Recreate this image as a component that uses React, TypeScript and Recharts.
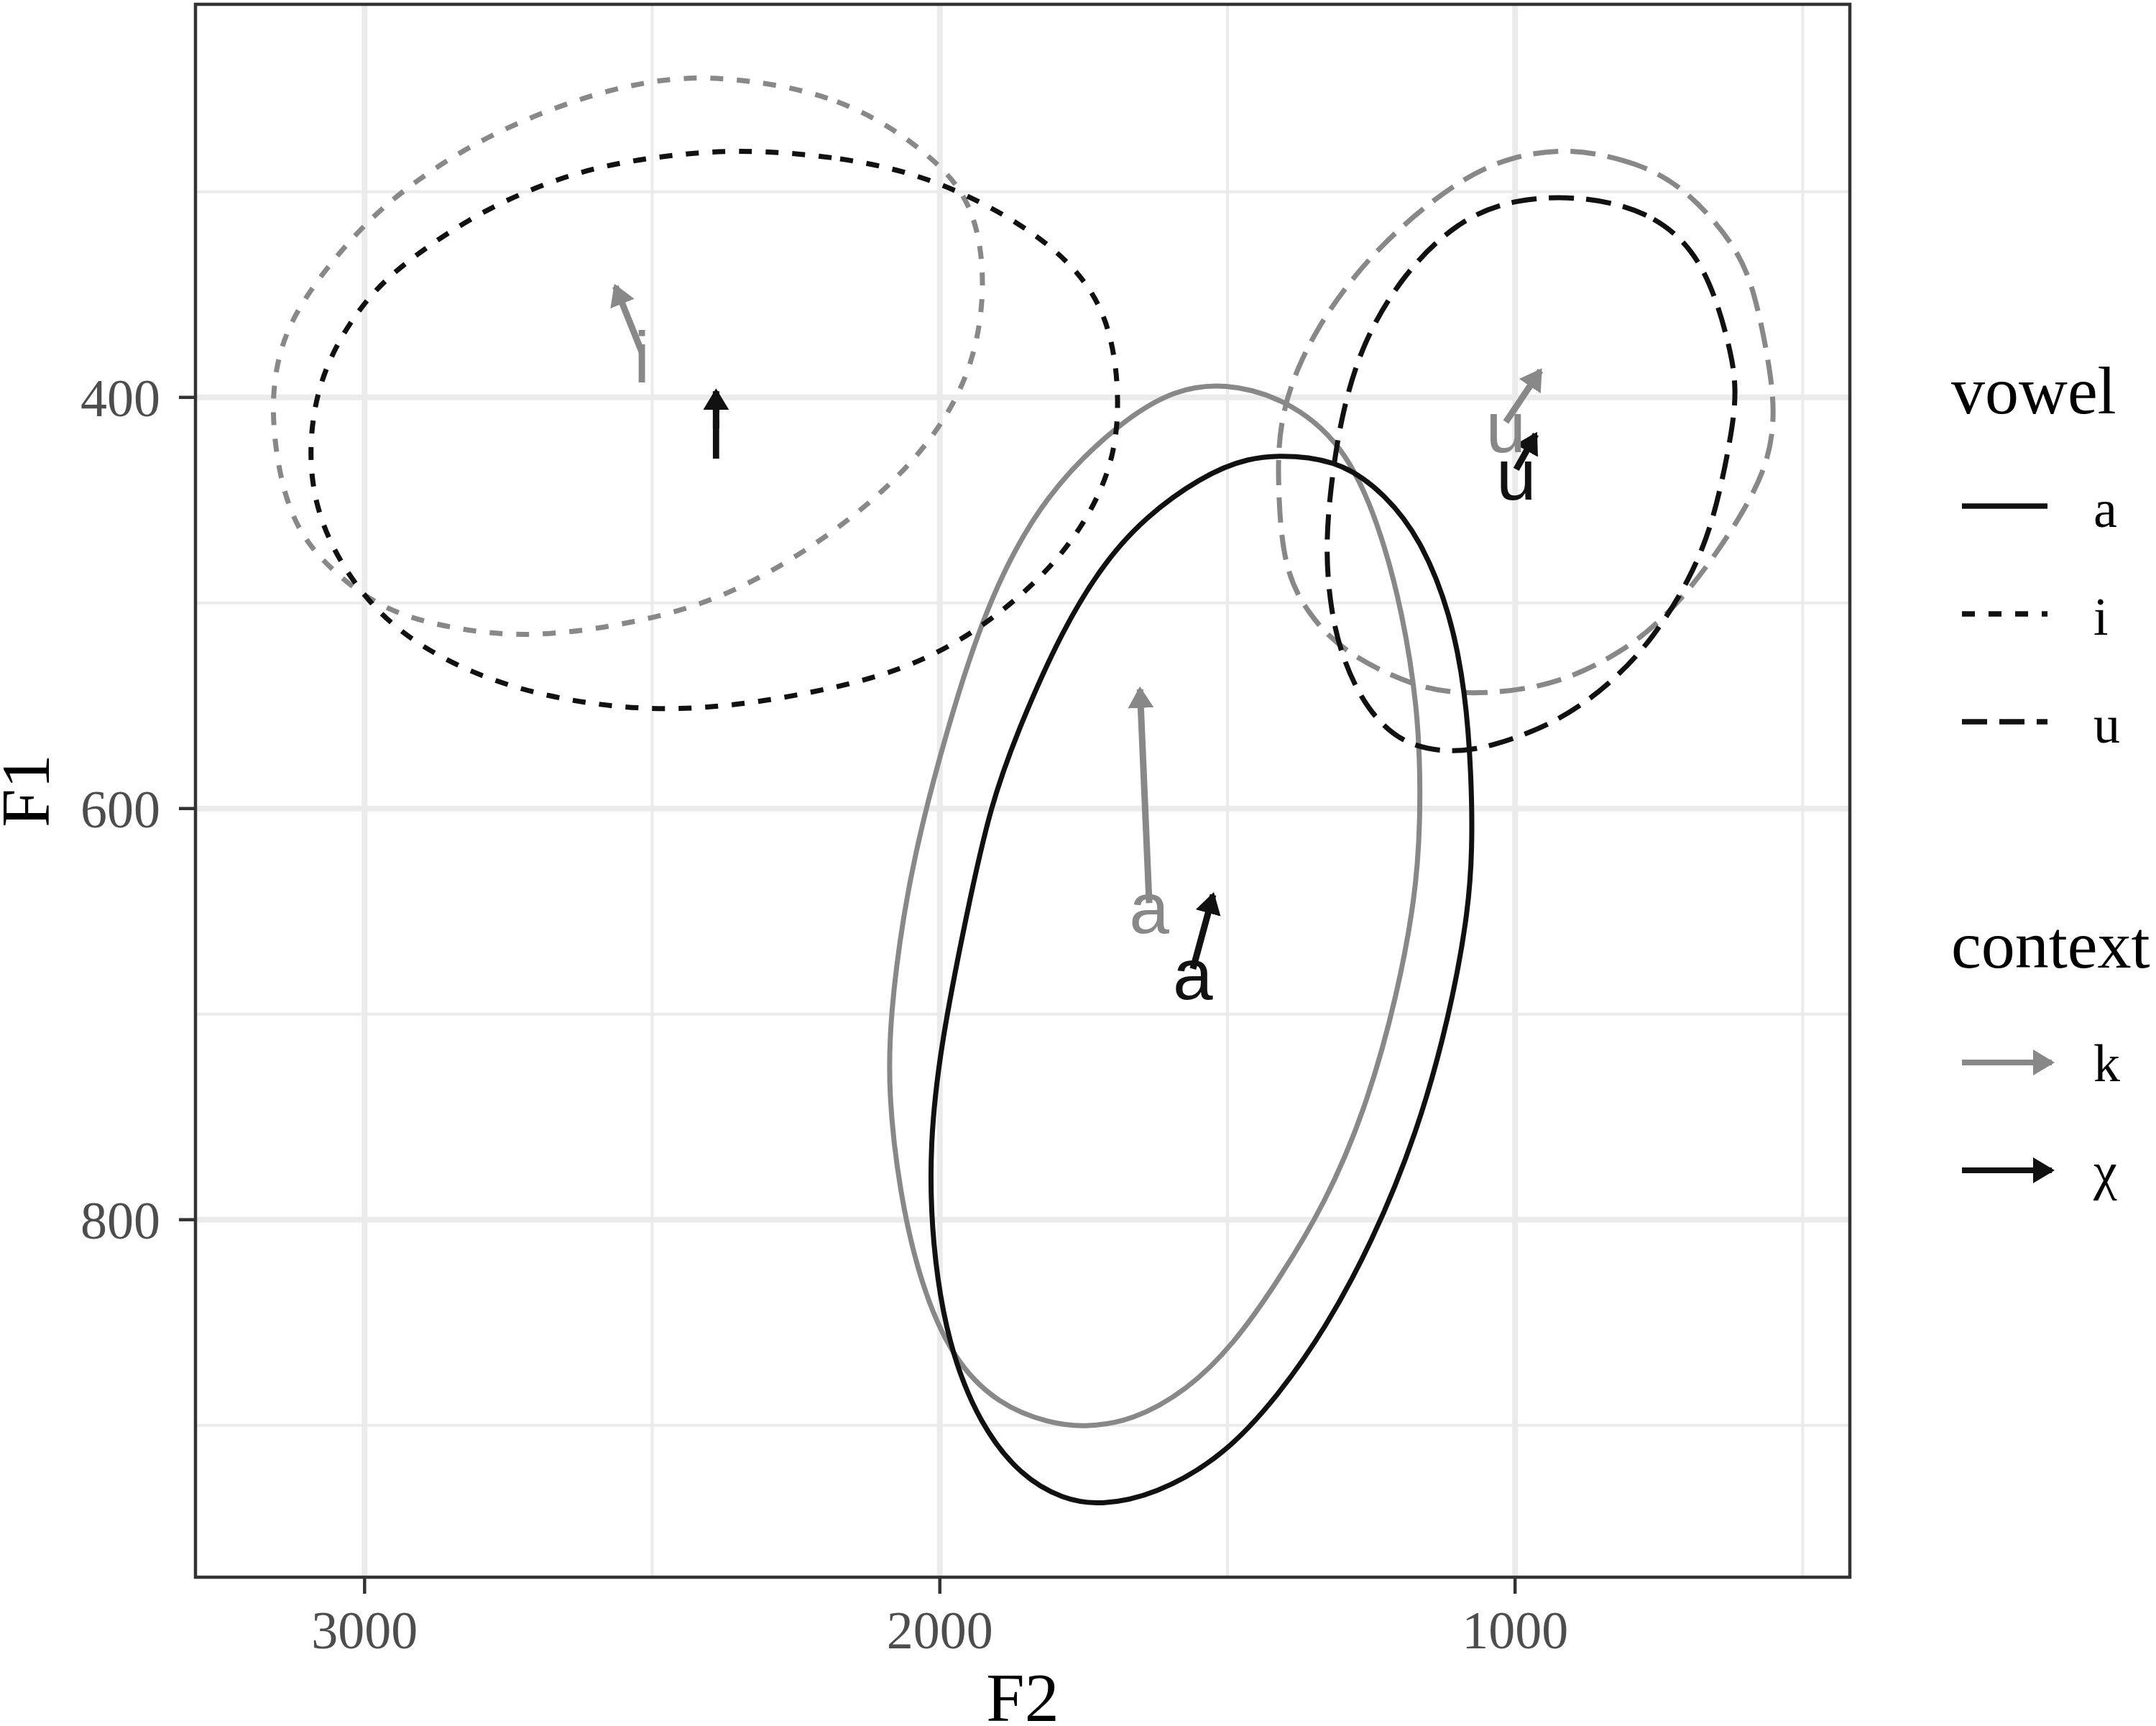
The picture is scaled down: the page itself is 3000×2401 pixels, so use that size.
import React from 'react';
import { ComposedChart, Line, Scatter, XAxis, YAxis, CartesianGrid, ReferenceArea } from 'recharts';

// ---------- data (F2, F1 in Hz) ----------
const vowels = ['a', 'i', 'u'];
const contexts = ['k', 'χ'];

const f2Major = [1000, 2000, 3000];
const f2Minor = [500, 1500, 2500];
const f1Major = [400, 600, 800];
const f1Minor = [300, 500, 700, 900];
const f2Domain: [number, number] = [418, 3294];
const f1Domain: [number, number] = [208.8, 973.9];

// ellipse outlines: [F2, F1]
const ellipseAK = [[1505,393],[1403,400],[1299,422],[1237,461],[1195,505],[1169,552],[1164,590],[1168,635],[1205,692],[1262,748],[1330,792],[1410,829],[1490,861],[1570,883],[1666,898],[1750,901],[1810,899],[1898,890],[1978,868],[2034,831],[2070,787],[2090,738],[2086,700],[2064,652],[2034,610],[1978,552],[1912,496],[1818,447],[1683,411],[1590,396]];
const ellipseAX = [[1382,428],[1299,432],[1226,447],[1164,469],[1112,505],[1086,544],[1076,583],[1074,620],[1082,652],[1114,701],[1170,758],[1250,812],[1330,853],[1410,885],[1506,915],[1626,934],[1722,939],[1786,936],[1858,925],[1930,900],[1986,861],[2014,812],[2018,763],[1998,714],[1954,652],[1912,598],[1860,559],[1787,513],[1714,480],[1642,458],[1548,439],[1465,429]];
const ellipseIK = [[2386,243],[2168,253],[2013,282],[1940,306],[1919,344],[1940,384],[2002,417],[2096,446],[2220,473],[2376,498],[2531,510],[2708,517],[2842,513],[2967,504],[3060,484],[3133,460],[3164,413],[3154,380],[3112,353],[3008,317],[2915,295],[2791,273],[2635,255],[2510,246]];
const ellipseIX = [[2355,279],[2168,283],[2013,293],[1857,315],[1753,339],[1701,366],[1686,404],[1701,435],[1753,464],[1826,489],[1940,515],[2064,533],[2220,544],[2427,553],[2614,550],[2791,538],[2946,515],[3039,484],[3091,451],[3097,417],[3071,384],[2998,351],[2915,331],[2791,308],[2635,290],[2500,283]];
const ellipseUK = [[902,279],[813,284],[718,294],[610,327],[579,354],[556,387],[548,410],[562,435],[624,466],[718,502],[811,524],[936,541],[1081,545],[1175,541],[1299,524],[1361,505],[1403,483],[1413,442],[1410,407],[1351,367],[1243,327],[1100,294],[1000,282]];
const ellipseUX = [[873,302],[753,311],[670,334],[627,374],[614,396],[624,419],[655,461],[697,489],[759,517],[832,539],[925,558],[1040,570],[1112,573],[1195,569],[1258,552],[1299,528],[1320,505],[1330,474],[1320,442],[1303,410],[1267,374],[1195,340],[1100,314],[1000,303]];

// arrows (a, i, u): start -> end
const arrowStartK = [[1636,646],[2518,378],[1016,412]];
const arrowEndK = [[1652,542],[2564,346],[956,387]];
const arrowStartX = [[1560,678],[2389,415],[998,435]];
const arrowEndX = [[1525,642],[2389,397],[964,418]];

// ---------- styles ----------
const GRAY = '#888888';
const BLACK = '#111111';
const DASH: Record<string, string | undefined> = { a: undefined, i: '18 19', u: '35 17' };
const SERIF = '"Liberation Serif", "DejaVu Serif", serif';
const SANS = '"Liberation Sans", Arial, sans-serif';

const toPts = (arr: number[][]) => arr.map(([f2, f1]) => ({ f2, f1 }));

const ellipses = [
  { key: 'aK', v: 'a', color: GRAY, pts: ellipseAK },
  { key: 'iK', v: 'i', color: GRAY, pts: ellipseIK },
  { key: 'uK', v: 'u', color: GRAY, pts: ellipseUK },
  { key: 'aX', v: 'a', color: BLACK, pts: ellipseAX },
  { key: 'iX', v: 'i', color: BLACK, pts: ellipseIX },
  { key: 'uX', v: 'u', color: BLACK, pts: ellipseUX },
];

const arrowSets = [
  { ctx: 'k', color: GRAY, marker: 'url(#arrowK)', starts: arrowStartK, ends: arrowEndK },
  { ctx: 'x', color: BLACK, marker: 'url(#arrowX)', starts: arrowStartX, ends: arrowEndX },
];

const XTick = (props: any) => {
  const { x, y, payload } = props;
  return (
    <text x={x} y={y} dy={76} textAnchor="middle" fontFamily={SERIF} fontSize={74} fill="#4d4d4d">
      {payload.value}
    </text>
  );
};

const YTick = (props: any) => {
  const { x, y, payload } = props;
  return (
    <text x={x} y={y} dx={-26} dy={26} textAnchor="end" fontFamily={SERIF} fontSize={74} fill="#4d4d4d">
      {payload.value}
    </text>
  );
};

const makeLabel = (color: string) => (props: any) => {
  const { cx, cy, payload } = props;
  return (
    <text x={cx} y={cy + 42} textAnchor="middle" fontFamily={SANS} fontSize={100} fill={color}>
      {payload.label}
    </text>
  );
};

export default function App() {
  return (
    <div style={{ position: 'relative', width: 3000, height: 2401, background: '#fff' }}>
      <style>{`body{margin:0;background:#fff}`}</style>
      <ComposedChart
        width={3000}
        height={2401}
        margin={{ top: 6, right: 426, bottom: 57, left: 122 }}
      >
        <CartesianGrid stroke="#ebebeb" strokeWidth={4} verticalValues={f2Minor} horizontalValues={f1Minor} fill="none" />
        <CartesianGrid stroke="#ebebeb" strokeWidth={8} verticalValues={f2Major} horizontalValues={f1Major} fill="none" />
        <XAxis
          type="number"
          dataKey="f2"
          domain={f2Domain}
          allowDataOverflow
          reversed
          ticks={f2Major}
          height={150}
          tickSize={23}
          tickMargin={0}
          axisLine={false}
          tickLine={{ stroke: '#333333', strokeWidth: 4.5 }}
          tick={<XTick />}
        />
        <YAxis
          type="number"
          dataKey="f1"
          domain={f1Domain}
          allowDataOverflow
          reversed
          ticks={f1Major}
          width={150}
          tickSize={23}
          tickMargin={0}
          axisLine={false}
          tickLine={{ stroke: '#333333', strokeWidth: 4.5 }}
          tick={<YTick />}
        />
        {ellipses.map((e) => (
          <Line
            key={e.key}
            data={toPts(e.pts)}
            dataKey="f1"
            type="basisClosed"
            stroke={e.color}
            strokeWidth={7}
            strokeDasharray={DASH[e.v]}
            dot={false}
            activeDot={false}
            isAnimationActive={false}
            legendType="none"
          />
        ))}
        {arrowSets.map((s) =>
          vowels.map((v, i) => (
            <Line
              key={`arrow-${s.ctx}-${v}`}
              data={toPts([s.starts[i], s.ends[i]])}
              dataKey="f1"
              type="linear"
              stroke={s.color}
              strokeWidth={9}
              markerEnd={s.marker}
              dot={false}
              activeDot={false}
              isAnimationActive={false}
              legendType="none"
            />
          ))
        )}
        {arrowSets.map((s) => (
          <Scatter
            key={`labels-${s.ctx}`}
            data={vowels.map((v, i) => ({ f2: s.starts[i][0], f1: s.starts[i][1], label: v }))}
            dataKey="f1"
            shape={makeLabel(s.color)}
            isAnimationActive={false}
            legendType="none"
          />
        ))}
        <ReferenceArea
          x1={f2Domain[0]}
          x2={f2Domain[1]}
          y1={f1Domain[0]}
          y2={f1Domain[1]}
          fill="none"
          fillOpacity={0}
          stroke="#333333"
          strokeWidth={4.5}
          ifOverflow="visible"
        />
      </ComposedChart>
      <svg width={3000} height={2401} style={{ position: 'absolute', left: 0, top: 0, pointerEvents: 'none' }}>
        <defs>
          <marker id="arrowK" markerUnits="userSpaceOnUse" viewBox="0 0 30 36" markerWidth={30} markerHeight={36} refX={26} refY={18} orient="auto">
            <path d="M0,0 L30,18 L0,36 Z" fill={GRAY} />
          </marker>
          <marker id="arrowX" markerUnits="userSpaceOnUse" viewBox="0 0 30 36" markerWidth={30} markerHeight={36} refX={26} refY={18} orient="auto">
            <path d="M0,0 L30,18 L0,36 Z" fill={BLACK} />
          </marker>
        </defs>
        {/* axis titles */}
        <text x={1423} y={2394} textAnchor="middle" fontFamily={SERIF} fontSize={96} fill="#000">F2</text>
        <text x={68} y={1100} transform="rotate(-90 68 1100)" textAnchor="middle" fontFamily={SERIF} fontSize={96} fill="#000">F1</text>
        {/* legend: vowel */}
        <text x={2715} y={575} fontFamily={SERIF} fontSize={94} fill="#000">vowel</text>
        {vowels.map((v, i) => (
          <g key={`lv-${v}`}>
            <line x1={2730} x2={2849} y1={704 + 150 * i} y2={704 + 150 * i} stroke={BLACK} strokeWidth={7.5} strokeDasharray={DASH[v]} />
            <text x={2913} y={733 + 150 * i} fontFamily={SERIF} fontSize={74} fill="#000">{v}</text>
          </g>
        ))}
        {/* legend: context */}
        <text x={2715} y={1346} fontFamily={SERIF} fontSize={94} fill="#000">context</text>
        {contexts.map((c, i) => (
          <g key={`lc-${c}`}>
            <line x1={2730} x2={2855} y1={1478 + 150 * i} y2={1478 + 150 * i} stroke={i === 0 ? GRAY : BLACK} strokeWidth={8} markerEnd={i === 0 ? 'url(#arrowK)' : 'url(#arrowX)'} />
            <text x={2913} y={1504 + 150 * i} fontFamily={SERIF} fontSize={74} fill="#000">{c}</text>
          </g>
        ))}
      </svg>
    </div>
  );
}
